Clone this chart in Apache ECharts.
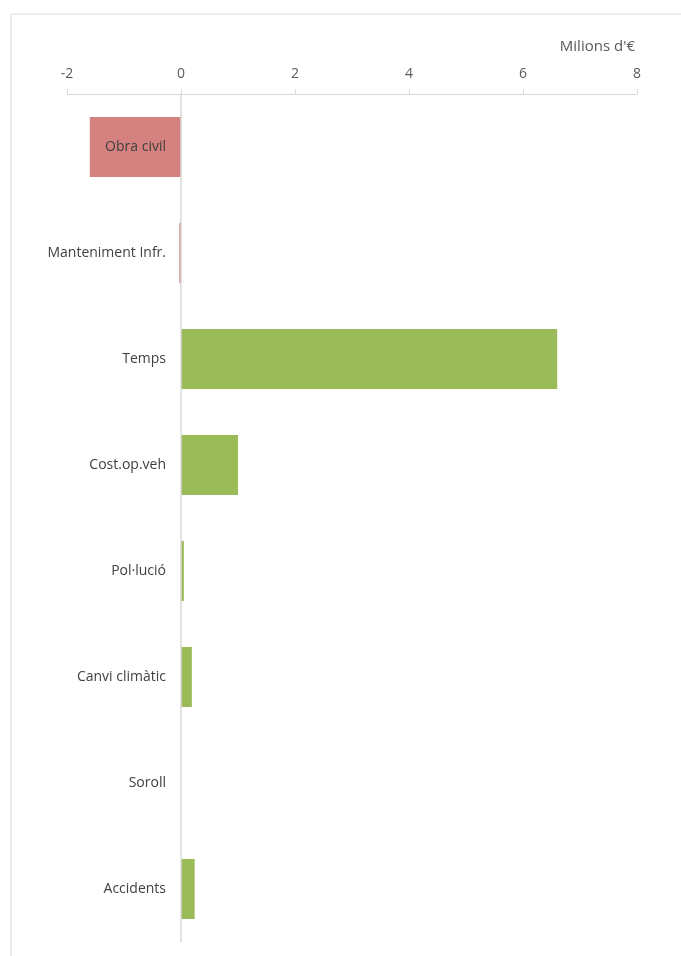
<!DOCTYPE html>
<html>
<head>
<meta charset="utf-8">
<script src="https://cdn.jsdelivr.net/npm/echarts@6/dist/echarts.min.js"></script>
<style>
  html, body { margin: 0; padding: 0; background: #fff; }
  #chart { width: 681px; height: 956px; }
</style>
</head>
<body>
<div id="chart"></div>
<script>
// values in millions of euros
const categories = ['Obra civil', 'Manteniment Infr.', 'Temps', 'Cost.op.veh', 'Pol·lució', 'Canvi climàtic', 'Soroll', 'Accidents'];
const values = [-1.6, -0.03, 6.6, 1.0, 0.05, 0.19, 0, 0.24];
const xTicks = { min: -2, max: 8, interval: 2 };
const unitLabel = "Milions d'€";

const chart = echarts.init(document.getElementById('chart'));
const font = '"Open Sans", "Noto Sans", sans-serif';

chart.setOption({
  animation: false,
  backgroundColor: '#ffffff',
  textStyle: { fontFamily: font },
  title: {
    text: unitLabel,
    right: 46,
    top: 39,
    padding: 0,
    textStyle: { fontFamily: font, fontSize: 15, fontWeight: 'normal', color: '#595959' },
  },
  graphic: [
    {
      type: 'rect',
      shape: { x: 11, y: 14, width: 720, height: 1000 },
      style: { fill: 'none', stroke: '#d9d9d9', lineWidth: 1 },
      silent: true,
    },
  ],
  grid: { left: 67, right: 44, top: 94, bottom: 14, containLabel: false, outerBoundsMode: 'none' },
  xAxis: {
    type: 'value',
    position: 'top',
    min: xTicks.min,
    max: xTicks.max,
    interval: xTicks.interval,
    axisLine: { show: true, lineStyle: { color: '#d9d9d9', width: 1 } },
    axisTick: { show: true, length: 5, lineStyle: { color: '#d9d9d9' } },
    axisLabel: { color: '#595959', fontSize: 14, margin: 13, fontFamily: font },
    splitLine: { show: false },
  },
  yAxis: {
    type: 'category',
    inverse: true,
    data: categories,
    z: 10,
    axisLine: { show: true, onZero: true, lineStyle: { color: '#d9d9d9', width: 1.5 } },
    axisTick: { show: false },
    // labels sit just left of the zero line, not at the grid edge
    axisLabel: { color: '#404040', fontSize: 14, margin: -99, fontFamily: font },
  },
  series: [
    {
      type: 'bar',
      data: values,
      barWidth: 60,
      itemStyle: {
        color: (p) => (p.value < 0 ? '#d48180' : '#9bbb59'),
      },
    },
  ],
});
</script>
</body>
</html>
